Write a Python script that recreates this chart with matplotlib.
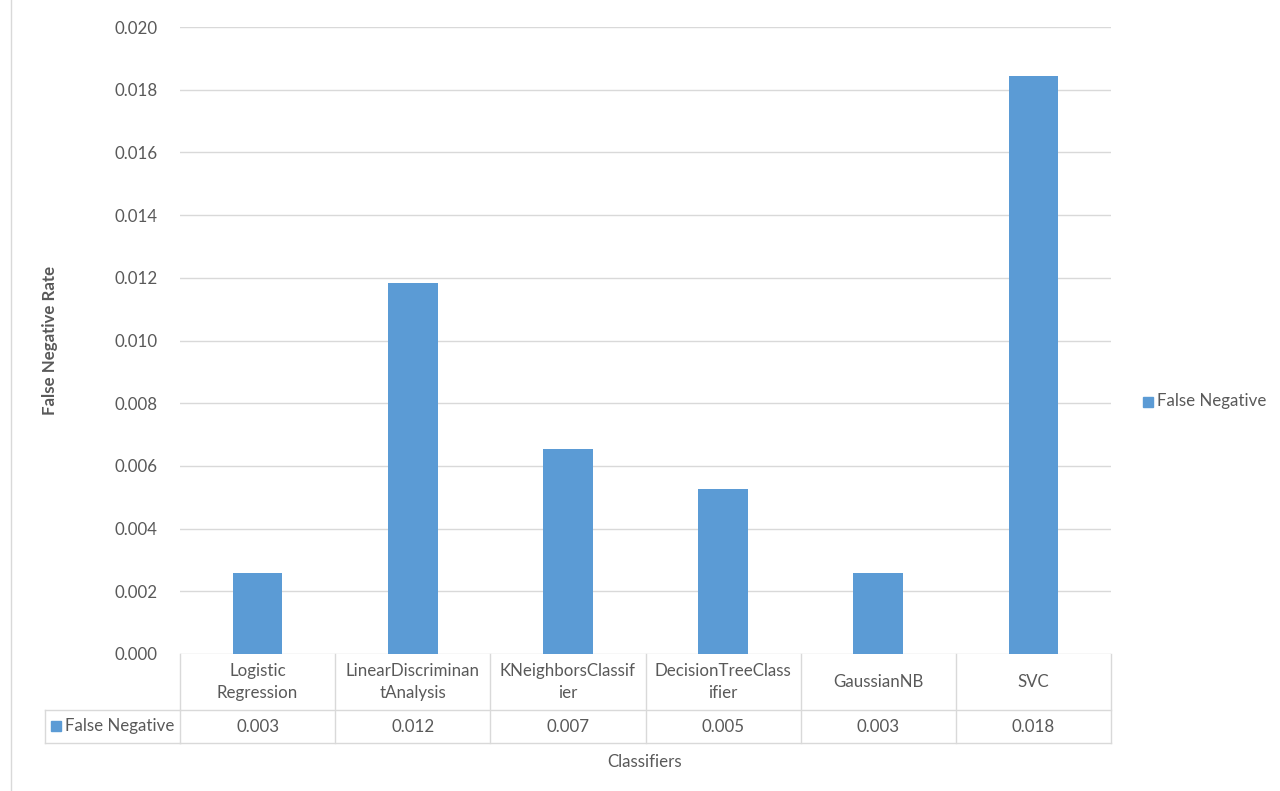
import matplotlib.pyplot as plt
from matplotlib.lines import Line2D
from matplotlib.patches import Rectangle
from matplotlib.transforms import blended_transform_factory

# Classifier results
classifiers = ["Logistic\nRegression", "LinearDiscriminan\ntAnalysis",
               "KNeighborsClassif\nier", "DecisionTreeClass\nifier",
               "GaussianNB", "SVC"]
false_negative = [0.00258, 0.01183, 0.00654, 0.00526, 0.00258, 0.01844]
series_name = "False Negative"
y_ticks = [0.000, 0.002, 0.004, 0.006, 0.008, 0.010,
           0.012, 0.014, 0.016, 0.018, 0.020]

BAR = "#5B9BD5"
TEXT = "#595959"
GRID = "#D9D9D9"
FS = 12.2

plt.rcParams["font.family"] = ["Lato", "DejaVu Sans"]
plt.rcParams["font.size"] = FS

W, H = 1280, 791
fig = plt.figure(figsize=(W / 100, H / 100), dpi=100)


def fy(py):
    return 1 - py / H


ax = fig.add_axes([180 / W, fy(654), (1111 - 180) / W, (654 - 27) / H])
x = list(range(len(classifiers)))
ax.bar(x, false_negative, width=0.32, color=BAR, zorder=3)
ax.set_xlim(-0.5, len(classifiers) - 0.5)
ax.set_ylim(0, 0.020)
ax.set_yticks(y_ticks)
ax.set_yticklabels([f"{t:.3f}" for t in y_ticks], color=TEXT, fontsize=FS)
ax.tick_params(axis="y", length=0, pad=16)
ax.set_xticks([])
ax.grid(axis="y", color=GRID, linewidth=1, zorder=0)
for s in ax.spines.values():
    s.set_visible(False)

fig.text(50 / W, fy(340), "False Negative Rate", rotation=90, ha="center",
         va="center", color=TEXT, fontweight="bold", fontsize=FS)

# data table below the plot
tr = blended_transform_factory(ax.transData, fig.transFigure)
y_top, y_mid, y_bot = fy(654), fy(710), fy(743)
lw = 1.0


def line(xs, ys, transform):
    fig.add_artist(Line2D(xs, ys, transform=transform, color=GRID, lw=lw))


line([-0.5, 5.5], [y_mid, y_mid], tr)
line([-0.5, 5.5], [y_bot, y_bot], tr)
line([45 / W, 180 / W], [y_mid, y_mid], fig.transFigure)
line([45 / W, 180 / W], [y_bot, y_bot], fig.transFigure)
line([45 / W, 45 / W], [y_mid, y_bot], fig.transFigure)
for b in range(len(classifiers) + 1):
    line([b - 0.5, b - 0.5], [y_top, y_bot], tr)

for i, (name, val) in enumerate(zip(classifiers, false_negative)):
    fig.text(i, (y_top + y_mid) / 2, name, transform=tr, ha="center",
             va="center", color=TEXT, fontsize=FS, linespacing=1.4)
    fig.text(i, (y_mid + y_bot) / 2, f"{val:.3f}", transform=tr,
             ha="center", va="center", color=TEXT, fontsize=FS)

# row header with legend key
fig.add_artist(Rectangle((51 / W, fy(731)), 10 / W, 10 / H,
                         transform=fig.transFigure, color=BAR))
fig.text(65 / W, (y_mid + y_bot) / 2, series_name, ha="left", va="center",
         color=TEXT, fontsize=FS)

fig.text(645 / W, fy(762), "Classifiers", ha="center", va="center",
         color=TEXT, fontsize=FS)

# legend on the right
fig.add_artist(Rectangle((1143 / W, fy(407)), 10 / W, 10 / H,
                         transform=fig.transFigure, color=BAR))
fig.text(1157 / W, fy(401), series_name, ha="left", va="center",
         color=TEXT, fontsize=FS)

# chart area edge
line([11 / W, 11 / W], [0, 1], fig.transFigure)

fig.savefig("out.png", dpi=100)
